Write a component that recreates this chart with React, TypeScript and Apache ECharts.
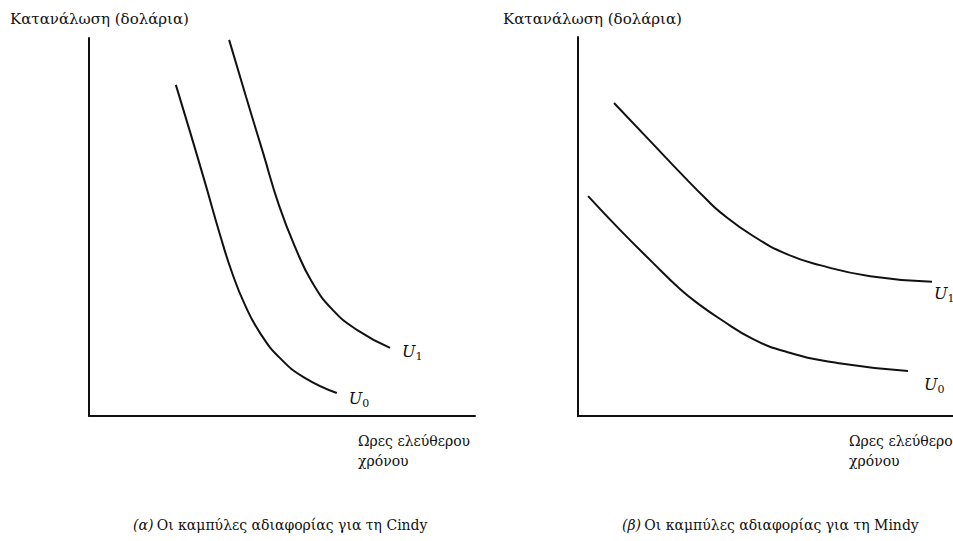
import React, { useEffect, useRef } from "react";
import * as echarts from "echarts";

// Panel (a) Cindy: [leisure hours, consumption] in axis units 0..100
const cindyU0: [number, number][] = [
  [22.5, 87.6], [26.2, 75.1], [30.1, 61.6], [33.9, 48.1], [37.0, 38.1],
  [40.4, 29.4], [44.3, 22.0], [49.5, 15.3], [55.9, 10.1], [64.2, 6.1],
];
const cindyU1: [number, number][] = [
  [36.3, 99.5], [40.7, 84.4], [45.1, 69.6], [49.2, 55.8], [53.4, 44.7],
  [57.8, 35.4], [63.2, 28.0], [69.4, 22.8], [78.0, 18.0],
];
// Panel (b) Mindy
const mindyU0: [number, number][] = [
  [2.7, 58.0], [11.2, 49.1], [20.0, 40.4], [27.2, 33.5], [32.5, 29.3],
  [37.9, 25.6], [46.7, 20.3], [55.7, 16.9], [69.1, 14.0], [88.0, 11.9],
];
const mindyU1: [number, number][] = [
  [9.6, 82.6], [19.2, 72.6], [29.1, 62.3], [33.9, 57.5], [37.9, 53.8],
  [46.7, 47.5], [55.7, 42.7], [64.5, 39.8], [77.9, 36.9], [94.4, 35.4],
];

const yTitle = "Κατανάλωση (δολάρια)";
const xTitle = "Ωρες ελεύθερου\nχρόνου";
const xTitleCut = "Ωρες ελεύθερο\nχρόνου";
const captionATag = "(α)";
const captionBTag = "(β)";
const captionA = "Οι καμπύλες αδιαφορίας για τη Cindy";
const captionB = "Οι καμπύλες αδιαφορίας για τη Mindy";

const FONT = "'DejaVu Serif', 'Liberation Serif', serif";
const INK = "#111";

function curve(
  name: string,
  data: [number, number][],
  idx: number,
  sub: string,
  offset: [number, number]
) {
  return {
    type: "line",
    name,
    xAxisIndex: idx,
    yAxisIndex: idx,
    data,
    smooth: 0.5,
    showSymbol: false,
    symbol: "none",
    lineStyle: { color: INK, width: 2 },
    endLabel: {
      show: true,
      offset,
      formatter: "{u|U}{s|" + sub + "}",
      rich: {
        u: { fontFamily: FONT, fontStyle: "italic", fontSize: 16, color: INK },
        s: { fontFamily: FONT, fontSize: 11, color: INK, padding: [9, 0, 0, 0] },
      },
    },
  };
}

function txt(left: number, top: number, text: string, size: number) {
  return {
    type: "text",
    left,
    top,
    style: {
      text,
      font: size + "px " + FONT,
      fill: INK,
      lineHeight: 20,
    },
  };
}

function caption(left: number, top: number, tag: string, text: string) {
  return {
    type: "text",
    left,
    top,
    style: {
      text: "{i|" + tag + "} {n|" + text + "}",
      fill: INK,
      rich: {
        i: { fontFamily: FONT, fontStyle: "italic", fontSize: 14, color: INK },
        n: { fontFamily: FONT, fontSize: 14, color: INK },
      },
    },
  };
}

export default function App() {
  const ref = useRef<HTMLDivElement>(null);
  useEffect(() => {
    if (!ref.current) return;
    const chart = echarts.init(ref.current, null, { renderer: "svg" });
    const axisBase = {
      type: "value",
      min: 0,
      max: 100,
      axisLine: { show: true, onZero: false, lineStyle: { color: INK, width: 2 } },
      axisTick: { show: false },
      axisLabel: { show: false },
      splitLine: { show: false },
    };
    chart.setOption({
      animation: false,
      backgroundColor: "#fff",
      grid: [
        { left: 89, top: 38, width: 386, height: 378 },
        { left: 578, top: 37, width: 375, height: 379 },
      ],
      xAxis: [
        { ...axisBase, gridIndex: 0 },
        { ...axisBase, gridIndex: 1 },
      ],
      yAxis: [
        { ...axisBase, gridIndex: 0 },
        { ...axisBase, gridIndex: 1 },
      ],
      series: [
        curve("U0 Cindy", cindyU0, 0, "0", [4, 6]),
        curve("U1 Cindy", cindyU1, 0, "1", [4, 4]),
        curve("U1 Mindy", mindyU1, 1, "1", [-6, 12]),
        curve("U0 Mindy", mindyU0, 1, "0", [8, 14]),
      ],
      graphic: [
        txt(10, 9, yTitle, 15),
        txt(503, 9, yTitle, 15),
        txt(358, 431, xTitle, 14),
        txt(849, 431, xTitleCut, 14),
        caption(133, 518, captionATag, captionA),
        caption(622, 518, captionBTag, captionB),
      ],
    });
    return () => chart.dispose();
  }, []);
  return (
    <div
      ref={ref}
      style={{ position: "absolute", left: 0, top: 0, width: 953, height: 541 }}
    />
  );
}
